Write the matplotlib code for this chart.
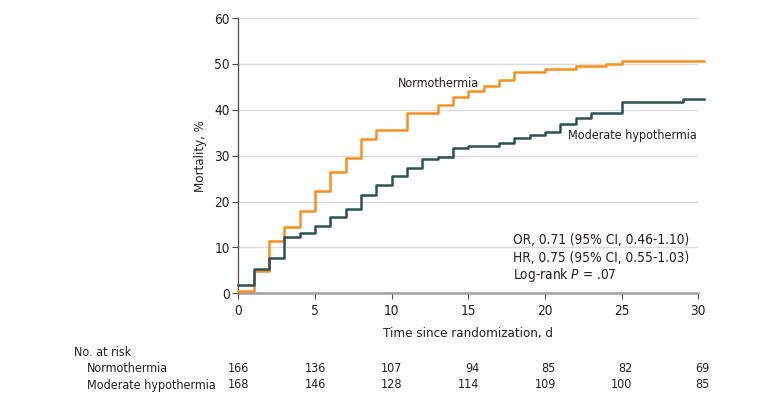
import matplotlib
matplotlib.use('Agg')
import matplotlib.pyplot as plt
import matplotlib.transforms as mtransforms

plt.rcParams['font.family'] = ['DejaVu Sans']
plt.rcParams['font.stretch'] = 'condensed'
plt.rcParams['mathtext.fontset'] = 'custom'
plt.rcParams['mathtext.it'] = 'DejaVu Sans:italic'

# Kaplan-Meier style cumulative mortality (%), step after each day
normo_days = [0, 1, 2, 3, 4, 5, 6, 7, 8, 9, 11, 13, 14, 15, 16, 17, 18, 20, 22, 24, 25, 30.4]
normo_mort = [0.6, 4.8, 11.4, 14.4, 18.0, 22.2, 26.4, 29.5, 33.7, 35.6, 39.2, 41.0, 42.8,
              44.0, 45.2, 46.5, 48.2, 48.8, 49.5, 50.0, 50.7, 50.7]

hypo_days = [0, 1, 2, 3, 4, 5, 6, 7, 8, 9, 10, 11, 12, 13, 14, 15, 17, 18, 19, 20, 21,
             22, 23, 25, 29, 30.4]
hypo_mort = [1.8, 5.2, 7.6, 12.3, 13.1, 14.7, 16.6, 18.4, 21.4, 23.7, 25.6, 27.4, 29.2,
             29.8, 31.6, 32.2, 32.8, 33.8, 34.5, 35.2, 36.9, 38.1, 39.3, 41.7, 42.4, 42.4]

risk_days = [0, 5, 10, 15, 20, 25, 30]
risk_normo = [166, 136, 107, 94, 85, 82, 69]
risk_hypo = [168, 146, 128, 114, 109, 100, 85]

ORANGE = '#F7901E'
TEAL = '#2C5250'
TXT = '#231F20'
FS = 9.5     # ticks, axis labels, stats
FS_LBL = 9   # curve and table labels

fig = plt.figure(figsize=(7.8, 4.05), dpi=100)
ax = fig.add_axes([238.3 / 780, 1 - 293.3 / 405, (698.3 - 238.3) / 780, (293.3 - 18.0) / 405])

ax.step(normo_days, normo_mort, where='post', color=ORANGE, lw=1.8, clip_on=False, zorder=3)
ax.step(hypo_days, hypo_mort, where='post', color=TEAL, lw=1.8, clip_on=False, zorder=3)

ax.set_xlim(0, 30)
ax.set_ylim(0, 60)
ax.set_xticks(risk_days)
ax.set_yticks(range(0, 61, 10))
ax.yaxis.grid(True, color='#DCDCDC', lw=1.0)
ax.set_axisbelow(True)

for s in ['top', 'right']:
    ax.spines[s].set_visible(False)
ax.spines['left'].set_color('#4D4D4D')
ax.spines['left'].set_linewidth(0.9)
ax.spines['bottom'].set_color('#A0A0A0')
ax.spines['bottom'].set_linewidth(1.8)
ax.spines['bottom'].set_zorder(2)

ax.tick_params(axis='y', length=4, width=0.8, color='#4D4D4D', labelsize=FS + 0.3,
               labelcolor=TXT, pad=2)
ax.tick_params(axis='x', length=4, width=0.8, color='#4D4D4D', labelsize=FS + 0.3,
               labelcolor=TXT, pad=4)

ax.set_ylabel('Mortality, %', fontsize=FS, color=TXT, labelpad=5)
ax.set_xlabel('Time since randomization, d', fontsize=FS, color=TXT, labelpad=6)

ax.text(10.4, 45.7, 'Normothermia', fontsize=FS_LBL, color=TXT, va='center')
ax.text(21.5, 34.5, 'Moderate hypothermia', fontsize=FS_LBL, color=TXT, va='center')

ax.text(17.9, 11.6, 'OR, 0.71 (95% CI, 0.46-1.10)', fontsize=FS + 0.3, color=TXT, va='center')
ax.text(17.9, 7.8, 'HR, 0.75 (95% CI, 0.55-1.03)', fontsize=FS + 0.3, color=TXT, va='center')
ax.text(17.9, 4.0, 'Log-rank $\\it{P}$ = .07', fontsize=FS + 0.3, color=TXT, va='center')

# number at risk table
blend = mtransforms.blended_transform_factory(ax.transData, fig.transFigure)
fig.text(74 / 780, 1 - 353 / 405, 'No. at risk', fontsize=FS_LBL, color=TXT, va='center')
fig.text(87 / 780, 1 - 369 / 405, 'Normothermia', fontsize=FS_LBL, color=TXT, va='center')
fig.text(87 / 780, 1 - 385 / 405, 'Moderate hypothermia', fontsize=FS_LBL, color=TXT, va='center')
for d, n1, n2 in zip(risk_days, risk_normo, risk_hypo):
    ax.text(d + 0.7, 1 - 369 / 405, str(n1), transform=blend, fontsize=FS_LBL, color=TXT,
            ha='right', va='center', clip_on=False)
    ax.text(d + 0.7, 1 - 385 / 405, str(n2), transform=blend, fontsize=FS_LBL, color=TXT,
            ha='right', va='center', clip_on=False)

fig.savefig('out.png', dpi=100, facecolor='white')
